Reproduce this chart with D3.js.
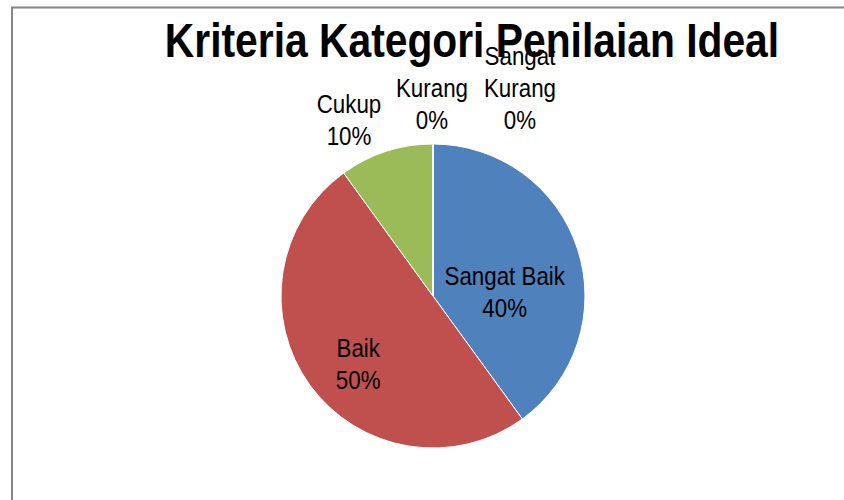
<!DOCTYPE html>
<html>
<head>
<meta charset="utf-8">
<script src="https://cdn.jsdelivr.net/npm/d3@7"></script>
<style>
  body { margin: 0; background: #fff; }
  text { font-family: "Liberation Sans Narrow", "Liberation Sans", Arial, sans-serif; }
</style>
</head>
<body>
<div id="chart"></div>
<script>
//DATA
let categories = ["Sangat Baik", "Baik", "Cukup", "Kurang", "Sangat Kurang"];
let values = [40, 50, 10, 0, 0];
let colors = ["#4F81BD", "#C0504D", "#9BBB59", "#8064A2", "#4BACC6"];
let title = "Kriteria Kategori Penilaian Ideal";

//DIMENSIONS
let WIDTH = 844,
  HEIGHT = 500,
  CX = 433,
  CY = 296,
  R = 152,
  NARROW = 0.86;

let svg = d3
  .select("#chart")
  .append("svg")
  .attr("width", WIDTH)
  .attr("height", HEIGHT);

//chart border (left + top visible)
svg.append("path")
  .attr("d", `M12,${HEIGHT} L12,7.5 L${WIDTH},7.5`)
  .attr("fill", "none")
  .attr("stroke", "#868686")
  .attr("stroke-width", 2);

let data = categories.map((c, i) => ({ name: c, value: values[i] }));
let total = d3.sum(values);

let pie = d3.pie().sort(null).value((d) => d.value);
let arc = d3.arc().innerRadius(0).outerRadius(R);
let arcs = pie(data);

let g = svg.append("g").attr("transform", `translate(${CX},${CY})`);

g.selectAll("path")
  .data(arcs)
  .enter()
  .append("path")
  .attr("d", arc)
  .attr("fill", (d, i) => colors[i])
  .attr("stroke", "#fff")
  .attr("stroke-width", 1);

//inside labels start at the centroid, then get nudged like excel "best fit"
let labelArc = d3.arc().innerRadius(R * 0.6).outerRadius(R * 0.6);
let nudges = {
  "Sangat Baik": [-15, 17],
  "Baik": [-1, 7]
};
// outside labels for thin slices, stacked above the pie
let outside = {
  "Cukup": [349 - CX, 113 - CY],
  "Kurang": [432 - CX, 97 - CY],
  "Sangat Kurang": [520 - CX, 97 - CY]
};

let LINE = 32;
arcs.forEach((d) => {
  let name = d.data.name;
  let pct = Math.round((d.data.value / total) * 100) + "%";
  let words = name === "Sangat Kurang" ? ["Sangat", "Kurang"] : [name];
  let x, y;
  if (outside[name]) {
    x = outside[name][0];
    y = outside[name][1];
  } else {
    let c = labelArc.centroid(d);
    x = c[0] + nudges[name][0];
    y = c[1] + nudges[name][1];
  }
  let lines = words.concat([pct]);
  let t = g.append("text")
    .attr("transform", `translate(${x},${y}) scale(${NARROW},1)`)
    .attr("text-anchor", "middle")
    .attr("font-size", 26)
    .attr("fill", "#000");
  lines.forEach((ln, i) => {
    t.append("tspan")
      .attr("x", 0)
      .attr("y", (i - (words.length - 1)) * LINE)
      .text(ln);
  });
});

//TITLE (drawn last, sits over the top label)
svg.append("text")
  .attr("transform", `translate(472,57) scale(0.85,1)`)
  .attr("text-anchor", "middle")
  .attr("font-size", 48)
  .attr("font-weight", "bold")
  .attr("fill", "#000")
  .text(title);
</script>
</body>
</html>
